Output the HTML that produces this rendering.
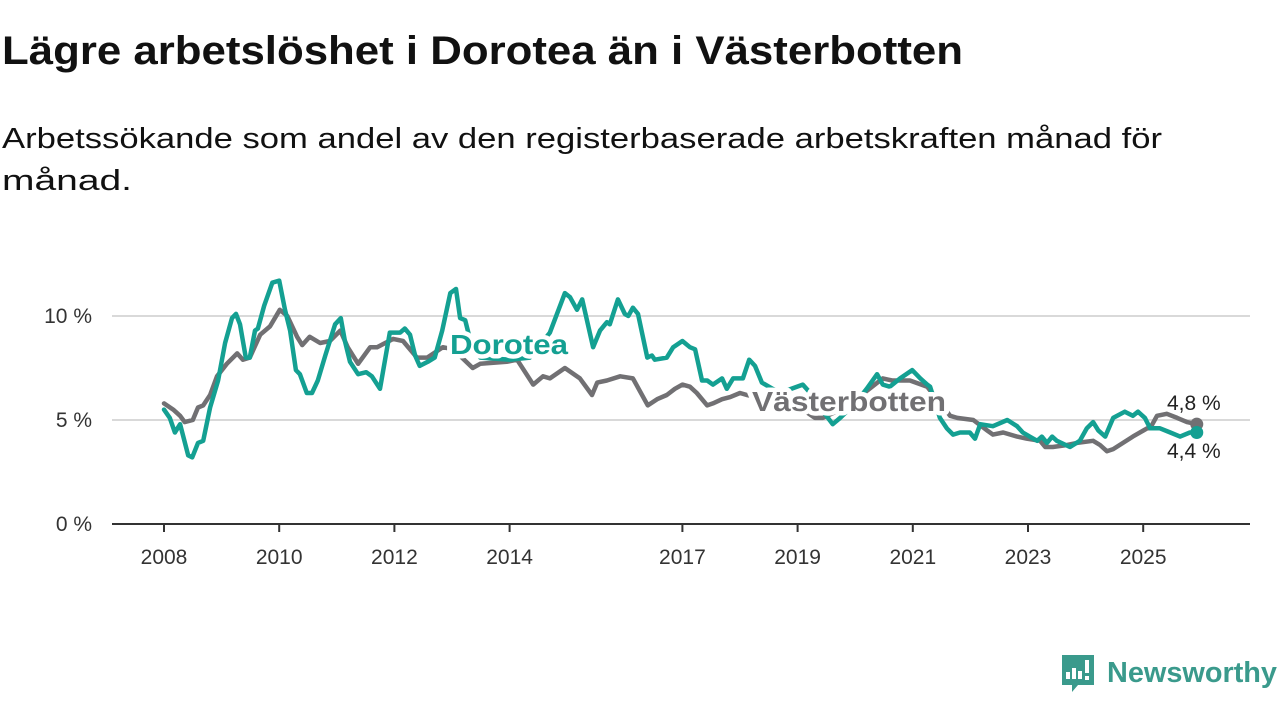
<!DOCTYPE html>
<html><head><meta charset="utf-8"><style>
html,body{margin:0;padding:0;background:#fff;width:1280px;height:720px;overflow:hidden}
svg{display:block;font-family:"Liberation Sans",sans-serif}
</style></head><body>
<svg id="chart" width="1280" height="720" viewBox="0 0 1280 720">
<text x="2" y="64" font-size="40" font-weight="bold" fill="#111" textLength="961" lengthAdjust="spacingAndGlyphs">Lägre arbetslöshet i Dorotea än i Västerbotten</text>
<text x="2" y="148" font-size="29" fill="#111" textLength="1160" lengthAdjust="spacingAndGlyphs">Arbetssökande som andel av den registerbaserade arbetskraften månad för</text>
<text x="2" y="190" font-size="29" fill="#111" textLength="130" lengthAdjust="spacingAndGlyphs">månad.</text>
<g id="grid"></g>
<g id="yaxis"></g>
<g id="xaxis"></g>
<g id="series"></g>
<g id="labels"></g>
<g>
<path d="M1062 655 h32 v30 h-16 l-6 7 v-7 h-10 z" fill="#3a9a8c"/>
<rect x="1066" y="672" width="4" height="7" fill="#fff"/><rect x="1072" y="668" width="4" height="11" fill="#fff"/><rect x="1078" y="671" width="4" height="8" fill="#fff"/><rect x="1085" y="660" width="4" height="13" fill="#fff"/><rect x="1085" y="676" width="4" height="4" fill="#fff"/>
<text x="1107" y="682" font-size="29" font-weight="bold" fill="#3a9a8c" textLength="170" lengthAdjust="spacingAndGlyphs">Newsworthy</text>
</g>
</svg>
<script>
const yTicks = [0, 5, 10];
const yTickLabels = ["0 %", "5 %", "10 %"];
const xTicks = [2008, 2010, 2012, 2014, 2017, 2019, 2021, 2023, 2025];
const doroteaDates = [2008.00,2008.10,2008.19,2008.28,2008.42,2008.49,2008.59,2008.68,2008.80,2008.94,2009.06,2009.18,2009.25,2009.32,2009.42,2009.49,2009.58,2009.63,2009.74,2009.88,2010.00,2010.10,2010.19,2010.29,2010.36,2010.48,2010.57,2010.67,2010.80,2010.97,2011.07,2011.14,2011.23,2011.37,2011.51,2011.61,2011.75,2011.92,2012.10,2012.18,2012.27,2012.36,2012.44,2012.58,2012.70,2012.83,2012.97,2013.07,2013.14,2013.23,2013.31,2013.49,2014.01,2014.35,2014.70,2014.96,2015.05,2015.17,2015.26,2015.45,2015.57,2015.69,2015.74,2015.88,2016.00,2016.06,2016.14,2016.23,2016.39,2016.47,2016.52,2016.73,2016.84,2017.00,2017.13,2017.22,2017.34,2017.43,2017.53,2017.69,2017.77,2017.88,2018.05,2018.16,2018.26,2018.38,2018.69,2019.09,2019.22,2019.39,2019.61,2019.74,2020.00,2020.20,2020.38,2020.48,2020.60,2020.78,2020.99,2021.13,2021.25,2021.30,2021.47,2021.59,2021.70,2021.82,2021.99,2022.08,2022.17,2022.39,2022.64,2022.81,2022.91,2023.03,2023.16,2023.24,2023.33,2023.42,2023.50,2023.73,2023.90,2024.02,2024.13,2024.22,2024.34,2024.48,2024.68,2024.82,2024.91,2025.03,2025.12,2025.29,2025.47,2025.64,2025.81,2025.93];
const doroteaValues = [5.5,5.1,4.4,4.8,3.3,3.2,3.9,4.0,5.6,6.9,8.7,9.9,10.1,9.6,8.0,8.0,9.3,9.4,10.5,11.6,11.7,10.3,9.3,7.4,7.2,6.3,6.3,6.9,8.1,9.6,9.9,8.8,7.8,7.2,7.3,7.1,6.5,9.2,9.2,9.4,9.1,8.1,7.6,7.8,8.0,9.3,11.1,11.3,9.9,9.8,8.9,8.0,7.9,8.0,9.2,11.1,10.9,10.3,10.8,8.5,9.3,9.7,9.6,10.8,10.1,10.0,10.4,10.1,8.0,8.1,7.9,8.0,8.5,8.8,8.5,8.4,6.9,6.9,6.7,7.0,6.5,7.0,7.0,7.9,7.6,6.8,6.3,6.7,6.3,5.6,4.8,5.1,5.8,6.5,7.2,6.7,6.6,7.0,7.4,7.0,6.7,6.6,5.1,4.6,4.3,4.4,4.4,4.1,4.8,4.7,5.0,4.7,4.4,4.2,4.0,4.2,3.9,4.2,4.0,3.7,4.0,4.6,4.9,4.5,4.2,5.1,5.4,5.2,5.4,5.1,4.6,4.6,4.4,4.2,4.4,4.4];
const vbDates = [2008.00,2008.16,2008.28,2008.36,2008.50,2008.59,2008.68,2008.80,2008.92,2009.09,2009.27,2009.37,2009.49,2009.67,2009.84,2010.01,2010.14,2010.31,2010.40,2010.53,2010.71,2010.88,2011.06,2011.19,2011.37,2011.58,2011.70,2011.98,2012.15,2012.39,2012.57,2012.84,2013.02,2013.36,2013.49,2013.95,2014.13,2014.41,2014.58,2014.70,2014.96,2015.22,2015.43,2015.52,2015.69,2015.92,2016.14,2016.40,2016.56,2016.73,2016.87,2017.00,2017.13,2017.25,2017.43,2017.53,2017.69,2017.83,2018.00,2018.12,2018.69,2019.04,2019.30,2019.44,2019.82,2020.20,2020.48,2020.64,2020.95,2021.25,2021.65,2021.77,2022.05,2022.29,2022.39,2022.57,2022.81,2022.98,2023.21,2023.30,2023.43,2023.68,2023.85,2024.13,2024.25,2024.37,2024.48,2024.65,2024.82,2025.07,2025.12,2025.24,2025.41,2025.59,2025.76,2025.93];
const vbValues = [5.8,5.5,5.2,4.9,5.0,5.6,5.7,6.2,7.1,7.7,8.2,7.9,8.0,9.1,9.5,10.3,10.0,9.0,8.6,9.0,8.7,8.8,9.3,8.5,7.7,8.5,8.5,8.9,8.8,8.0,8.0,8.5,8.4,7.5,7.7,7.8,7.9,6.7,7.1,7.0,7.5,7.0,6.2,6.8,6.9,7.1,7.0,5.7,6.0,6.2,6.5,6.7,6.6,6.3,5.7,5.8,6.0,6.1,6.3,6.2,5.9,5.6,5.1,5.1,5.6,6.4,7.0,6.9,6.9,6.6,5.2,5.1,5.0,4.5,4.3,4.4,4.2,4.1,4.0,3.7,3.7,3.8,3.9,4.0,3.8,3.5,3.6,3.9,4.2,4.6,4.6,5.2,5.3,5.1,4.9,4.8];
const endLabels = ["4,8 %", "4,4 %"];

const NS = "http://www.w3.org/2000/svg";
const X0 = 164, PXY = 57.6, Y0 = 524, PXV = 20.8;
const xs = d => X0 + (d - 2008) * PXY;
const ys = v => Y0 - v * PXV;
function mk(tag, attrs, parent) {
  const e = document.createElementNS(NS, tag);
  for (const k in attrs) e.setAttribute(k, attrs[k]);
  parent.appendChild(e);
  return e;
}
const grid = document.getElementById('grid'), yaxis = document.getElementById('yaxis'),
      xaxis = document.getElementById('xaxis'), series = document.getElementById('series'),
      labels = document.getElementById('labels');
yTicks.forEach((t, i) => {
  if (t > 0) {
    const g = mk('line', {x1: 112, x2: 1250, y1: ys(t), y2: ys(t), stroke: '#d9d9d9', 'stroke-width': 2}, grid);
    
    
  }
  const tx = mk('text', {x: 92, y: ys(t) + 7, 'font-size': 21, fill: '#333', 'text-anchor': 'end'}, yaxis);
  tx.textContent = yTickLabels[i];
  
  
});
const base = mk('line', {x1: 112, x2: 1250, y1: Y0, y2: Y0, stroke: '#333', 'stroke-width': 2}, xaxis);


xTicks.forEach(t => {
  const tk = mk('line', {x1: xs(t), x2: xs(t), y1: Y0, y2: Y0 + 8, stroke: '#333', 'stroke-width': 2}, xaxis);
  
  
  const tx = mk('text', {x: xs(t), y: 564, 'font-size': 21, fill: '#333', 'text-anchor': 'middle'}, xaxis);
  tx.textContent = String(t);
  
  
});
function line(dates, vals, color, name) {
  const d = dates.map((t, i) => (i ? 'L' : 'M') + xs(t).toFixed(1) + ' ' + ys(vals[i]).toFixed(1)).join(' ');
  const p = mk('path', {d: d, fill: 'none', stroke: color, 'stroke-width': 4.5, 'stroke-linejoin': 'round', 'stroke-linecap': 'round'}, series);
  
  
  const n = dates.length - 1;
  const c = mk('circle', {cx: xs(dates[n]), cy: ys(vals[n]), r: 6.5, fill: color}, series);
  
  
}
const GRAY = '#717073', TEAL = '#14a092';
line(vbDates, vbValues, GRAY, 'vasterbotten-line');
line(doroteaDates, doroteaValues, TEAL, 'dorotea-line');
function lbl(x, y, txt, color, size, bold, name, halo, len) {
  const a = {x: x, y: y, 'font-size': size, fill: color, 'font-weight': bold ? 'bold' : 'normal',
    stroke: halo ? '#fff' : 'none', 'stroke-width': halo, 'paint-order': 'stroke', 'stroke-linejoin': 'round'};
  if (len) { a.textLength = len; a.lengthAdjust = 'spacingAndGlyphs'; }
  const t = mk('text', a, labels);
  t.textContent = txt;
  
  
  return t;
}
lbl(450, 354, 'Dorotea', TEAL, 28, true, 'dorotea-label', 9, 118);
lbl(752, 411, 'Västerbotten', GRAY, 28, true, 'vasterbotten-label', 9, 194);
lbl(1167, 410, endLabels[0], '#222', 21, false, 'vasterbotten-end-value', 5, 0);
lbl(1167, 458, endLabels[1], '#222', 21, false, 'dorotea-end-value', 5, 0);
</script>
</body></html>
